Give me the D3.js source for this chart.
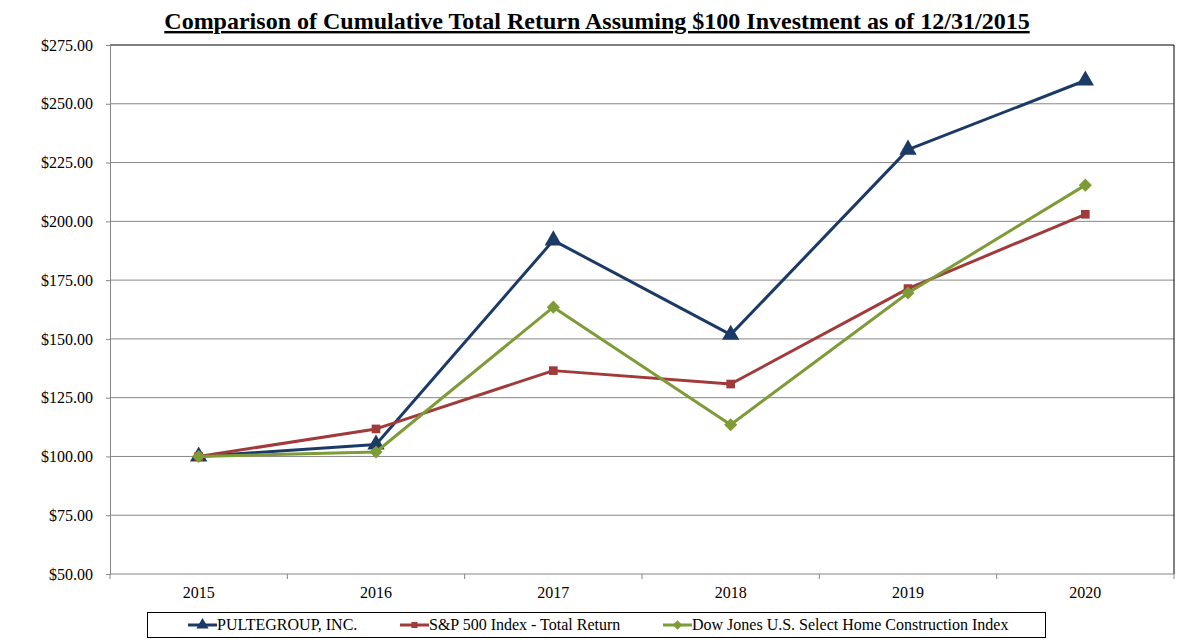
<!DOCTYPE html>
<html>
<head>
<meta charset="utf-8">
<script src="https://cdn.jsdelivr.net/npm/d3@7"></script>
<style>
  body { margin: 0; background: #fff; }
  svg { display: block; }
</style>
</head>
<body>
<svg id="chart" width="1190" height="644"></svg>
<script>
// chart values
const years = ["2015", "2016", "2017", "2018", "2019", "2020"];
const pulte = [100, 105.1, 191.9, 151.8, 230.5, 259.9];
const sp500 = [100, 111.7, 136.5, 130.8, 171.4, 203.0];
const dowJones = [100, 101.9, 163.5, 113.5, 169.5, 215.4];
const yTicks = [50, 75, 100, 125, 150, 175, 200, 225, 250, 275];

const seriesNames = ["PULTEGROUP, INC.", "S&P 500 Index - Total Return", "Dow Jones U.S. Select Home Construction Index"];
const seriesColors = ["#1c3a66", "#a03a3b", "#7d9b37"];
const seriesSymbols = [d3.symbolTriangle, d3.symbolSquare, d3.symbolDiamond2];
const seriesValues = [pulte, sp500, dowJones];

const width = 1190, height = 644;
const margin = {top: 45, right: 16, bottom: 70, left: 110};
const font = "'Liberation Serif', 'Times New Roman', serif";

const svg = d3.select("#chart").attr("font-family", font);

const x = d3.scaleBand()
    .domain(years)
    .range([margin.left, width - margin.right]);

const y = d3.scaleLinear()
    .domain([50, 275])
    .range([height - margin.bottom, margin.top]);

// title
svg.append("text")
    .attr("x", 597)
    .attr("y", 29)
    .attr("text-anchor", "middle")
    .attr("font-size", 24)
    .attr("font-weight", "bold")
    .attr("text-decoration", "underline")
    .text("Comparison of Cumulative Total Return Assuming $100 Investment as of 12/31/2015");

// gridlines
svg.append("g")
    .selectAll("line")
    .data(yTicks.slice(1, -1))
    .join("line")
    .attr("x1", margin.left)
    .attr("x2", width - margin.right)
    .attr("y1", d => y(d))
    .attr("y2", d => y(d))
    .attr("stroke", "#868686")
    .attr("stroke-width", 1);

// plot frame top + right
svg.append("path")
    .attr("d", `M${margin.left},${y(275)}H${width - margin.right}V${y(50)}`)
    .attr("fill", "none")
    .attr("stroke", "#000")
    .attr("stroke-width", 1);

// y axis
const yAxis = svg.append("g")
    .attr("transform", `translate(${margin.left},0)`)
    .call(d3.axisLeft(y).tickValues(yTicks).tickSize(4).tickPadding(13)
        .tickFormat(d => "$" + d3.format(".2f")(d)));
yAxis.selectAll("path, line").attr("stroke", "#868686");
yAxis.selectAll("text").attr("font-size", 16).attr("font-family", font).attr("fill", "#000");

// x axis, ticks between categories
const xAxis = svg.append("g")
    .attr("transform", `translate(0,${y(50)})`);
xAxis.append("line")
    .attr("x1", margin.left)
    .attr("x2", width - margin.right)
    .attr("stroke", "#868686");
xAxis.selectAll(".tk")
    .data(years.concat(["end"]))
    .join("line")
    .attr("class", "tk")
    .attr("x1", (d, i) => i < years.length ? x(d) : x(years[years.length - 1]) + x.bandwidth())
    .attr("x2", (d, i) => i < years.length ? x(d) : x(years[years.length - 1]) + x.bandwidth())
    .attr("y2", 5)
    .attr("stroke", "#868686");
xAxis.selectAll(".lbl")
    .data(years)
    .join("text")
    .attr("class", "lbl")
    .attr("x", d => x(d) + x.bandwidth() / 2)
    .attr("y", 24)
    .attr("text-anchor", "middle")
    .attr("font-size", 16)
    .text(d => d);

// lines + markers
const line = d3.line()
    .x((d, i) => x(years[i]) + x.bandwidth() / 2)
    .y(d => y(d));

const symSize = [130, 75, 110];

seriesValues.forEach((vals, s) => {
    const g = svg.append("g");
    g.append("path")
        .datum(vals)
        .attr("d", line)
        .attr("fill", "none")
        .attr("stroke", seriesColors[s])
        .attr("stroke-width", 3)
        .attr("stroke-linejoin", "round");
    g.selectAll("path.m")
        .data(vals)
        .join("path")
        .attr("class", "m")
        .attr("transform", (d, i) => `translate(${x(years[i]) + x.bandwidth() / 2},${y(d)})`)
        .attr("d", d3.symbol(seriesSymbols[s], symSize[s]))
        .attr("fill", seriesColors[s]);
});

// legend
const legend = svg.append("g");
legend.append("rect")
    .attr("x", 147.5)
    .attr("y", 612.5)
    .attr("width", 898)
    .attr("height", 25)
    .attr("fill", "#fff")
    .attr("stroke", "#000");

const legendX = [188, 400, 663];
seriesNames.forEach((name, s) => {
    const lx = legendX[s];
    legend.append("line")
        .attr("x1", lx).attr("x2", lx + 29)
        .attr("y1", 625).attr("y2", 625)
        .attr("stroke", seriesColors[s])
        .attr("stroke-width", 3);
    legend.append("path")
        .attr("transform", `translate(${lx + 14.5},625)`)
        .attr("d", d3.symbol(seriesSymbols[s], symSize[s] * 0.5))
        .attr("fill", seriesColors[s]);
    legend.append("text")
        .attr("x", lx + 29)
        .attr("y", 630)
        .attr("font-size", 16)
        .text(name);
});
</script>
</body>
</html>
